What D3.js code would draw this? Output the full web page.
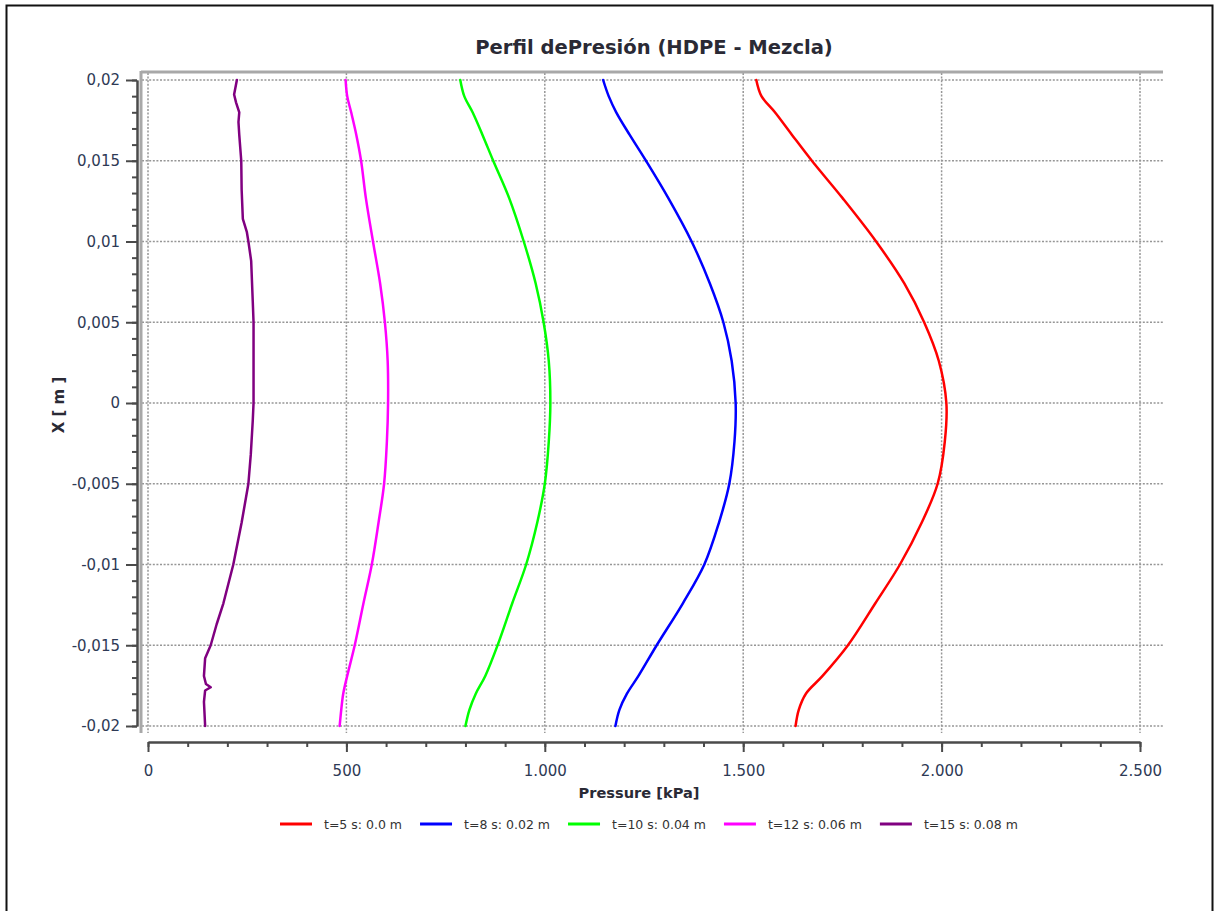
<!DOCTYPE html>
<html><head><meta charset="utf-8">
<script src="https://cdn.jsdelivr.net/npm/d3@7"></script>
<style>body{margin:0;background:#fff}svg{display:block}</style>
</head><body>
<svg id="c" width="1216" height="911"></svg>
<script>
// ---- data ----
const xPos = [0.02, 0.019, 0.018, 0.0166, 0.015, 0.0127, 0.01, 0.0074, 0.005, 0.0026, 0, -0.0024, -0.005, -0.0074, -0.01, -0.0124, -0.015, -0.0169, -0.018, -0.019, -0.02];
const pT5  = [1533, 1546, 1580, 1623, 1673, 1750, 1835, 1906, 1956, 1993, 2012, 2008, 1990, 1950, 1895, 1833, 1764, 1700, 1658, 1640, 1632];
const pT8  = [1147, 1161, 1180, 1214, 1255, 1311, 1370, 1416, 1450, 1471, 1481, 1478, 1465, 1439, 1402, 1348, 1282, 1236, 1207, 1188, 1178];
const pT10 = [787, 797, 818, 843, 870, 910, 947, 977, 997, 1010, 1014, 1010, 1000, 981, 953, 918, 881, 850, 826, 810, 800];
const pT12 = [498, 502, 512, 525, 537, 549, 567, 585, 597, 604, 605, 602, 595, 581, 564, 543, 521, 502, 492, 487, 483];
const xPosT15 = [0.02, 0.0191, 0.0186, 0.018, 0.0174, 0.0166, 0.015, 0.0132, 0.0114, 0.0106, 0.01, 0.0088, 0.0063, 0.005, 0.0021, 0, -0.0011, -0.0032, -0.005, -0.0074, -0.01, -0.0124, -0.0137, -0.015, -0.0158, -0.0169, -0.0174, -0.0176, -0.0178, -0.0185, -0.02];
const pT15 = [224, 217, 222, 230, 228, 230, 235, 236, 239, 249, 253, 260, 264, 266, 266, 266, 264, 259, 253, 236, 215, 190, 173, 158, 144, 141, 146, 158, 144, 141, 144];

const seriesNames = ["t=5 s: 0.0 m", "t=8 s: 0.02 m", "t=10 s: 0.04 m", "t=12 s: 0.06 m", "t=15 s: 0.08 m"];
const seriesColors = ["#ff0000", "#0000ff", "#00ff00", "#ff00ff", "#800080"];
const xTickValues = [0, 500, 1000, 1500, 2000, 2500];
const yTickValues = [-0.02, -0.015, -0.01, -0.005, 0, 0.005, 0.01, 0.015, 0.02];
const titleText = "Perfil dePresión (HDPE - Mezcla)";
const xTitle = "Pressure [kPa]";
const yTitle = "X [ m ]";

const smooth = d3.curveCatmullRom.alpha(0.5);
const series = [
  {name: seriesNames[0], color: seriesColors[0], xs: xPos, ps: pT5, curve: smooth},
  {name: seriesNames[1], color: seriesColors[1], xs: xPos, ps: pT8, curve: smooth},
  {name: seriesNames[2], color: seriesColors[2], xs: xPos, ps: pT10, curve: smooth},
  {name: seriesNames[3], color: seriesColors[3], xs: xPos, ps: pT12, curve: smooth},
  {name: seriesNames[4], color: seriesColors[4], xs: xPosT15, ps: pT15, curve: d3.curveLinear}
];

// ---- layout ----
const svg = d3.select("#c");
const FONT = "'DejaVu Sans', Verdana, sans-serif";
const x = d3.scaleLinear().domain([0, 2500]).range([148, 1140]);
const y = d3.scaleLinear().domain([-0.02, 0.02]).range([726, 80]);
const frameL = 142, frameR = 1163, frameT = 73, frameB = 733;

svg.append("rect").attr("x", 0).attr("y", 0).attr("width", 1216).attr("height", 911).attr("fill", "#fff");
// outer border
svg.append("rect").attr("x", 6.5).attr("y", 5.5).attr("width", 1206).attr("height", 920)
  .attr("fill", "none").attr("stroke", "#111").attr("stroke-width", 2);

// grid
const grid = svg.append("g").attr("stroke", "#969696").attr("stroke-width", 1.5).attr("stroke-dasharray", "2,1.6");
grid.selectAll("line.h").data(yTickValues).join("line").attr("class", "h")
  .attr("x1", frameL).attr("x2", frameR).attr("y1", d => y(d)).attr("y2", d => y(d));
grid.selectAll("line.v").data(xTickValues).join("line").attr("class", "v")
  .attr("y1", frameT).attr("y2", frameB).attr("x1", d => x(d)).attr("x2", d => x(d));

// frame (top and left)
svg.append("line").attr("x1", frameL - 1).attr("x2", frameR).attr("y1", frameT - 1).attr("y2", frameT - 1)
  .attr("stroke", "#a8a8a8").attr("stroke-width", 3);
svg.append("line").attr("x1", frameL - 1).attr("x2", frameL - 1).attr("y1", frameT - 2).attr("y2", frameB)
  .attr("stroke", "#a8a8a8").attr("stroke-width", 3);

// series
const line = (s) => d3.line().x((d, i) => x(s.ps[i])).y((d, i) => y(s.xs[i])).curve(s.curve);
svg.append("g").selectAll("path").data(series).join("path")
  .attr("d", s => line(s)(s.xs))
  .attr("fill", "none").attr("stroke", s => s.color).attr("stroke-width", 2.5)
  .attr("stroke-linejoin", "round").attr("stroke-linecap", "round");

// axes
const loc = d3.formatLocale({decimal: ",", thousands: ".", grouping: [3], currency: ["", ""]});
const fmtX = loc.format(",d");
const fmtY = d => d === 0 ? "0" : String(+d.toFixed(3)).replace(".", ",");
const axisColor = "#4a4a4a", labelColor = "#2e3a55";

const xMinor = d3.range(0, 2501, 100);
const yMinor = d3.range(-20, 21, 1).map(v => v / 1000);

function styleAxis(g) {
  g.select(".domain").attr("stroke", axisColor).attr("stroke-width", 2);
  g.selectAll(".tick line").attr("stroke", axisColor).attr("stroke-width", 2);
  g.selectAll("text").attr("fill", labelColor).attr("font-family", FONT).attr("font-size", 15);
}
const gxm = svg.append("g").attr("transform", "translate(0,742)")
  .call(d3.axisBottom(x).tickValues(xMinor).tickSize(5).tickSizeOuter(0).tickFormat(""));
styleAxis(gxm);
const gx = svg.append("g").attr("transform", "translate(0,742)")
  .call(d3.axisBottom(x).tickValues(xTickValues).tickSize(10).tickSizeOuter(0).tickPadding(13).tickFormat(fmtX));
styleAxis(gx);

const gym = svg.append("g").attr("transform", "translate(137,0)")
  .call(d3.axisLeft(y).tickValues(yMinor).tickSize(5).tickSizeOuter(0).tickFormat(""));
styleAxis(gym);
const gy = svg.append("g").attr("transform", "translate(137,0)")
  .call(d3.axisLeft(y).tickValues(yTickValues).tickSize(11).tickSizeOuter(0).tickPadding(6).tickFormat(fmtY));
styleAxis(gy);

// titles
function fitText(sel, target) {
  const w = sel.node().getComputedTextLength();
  const fs = +sel.attr("font-size");
  sel.attr("font-size", fs * target / w);
}
const t = svg.append("text").attr("x", 654).attr("y", 54).attr("text-anchor", "middle")
  .attr("font-family", FONT).attr("font-weight", "bold").attr("font-size", 18).attr("fill", "#2a2a35").text(titleText);
fitText(t, 358);

const xt = svg.append("text").attr("x", 639).attr("y", 798).attr("text-anchor", "middle")
  .attr("font-family", FONT).attr("font-weight", "bold").attr("font-size", 14).attr("fill", "#2a2a35").text(xTitle);
fitText(xt, 121);

svg.append("text").attr("transform", "translate(64,405) rotate(-90)").attr("text-anchor", "middle")
  .attr("font-family", FONT).attr("font-weight", "bold").attr("font-size", 15).attr("fill", "#2a2a35").text(yTitle);

// legend
const leg = svg.append("g");
let lx = 280;
series.forEach((s) => {
  leg.append("line").attr("x1", lx).attr("x2", lx + 32).attr("y1", 824).attr("y2", 824)
    .attr("stroke", s.color).attr("stroke-width", 3);
  const tx = leg.append("text").attr("x", lx + 44).attr("y", 828.5)
    .attr("font-family", FONT).attr("font-size", 12.5).attr("fill", "#333").text(s.name);
  lx = lx + 44 + tx.node().getComputedTextLength() + 18;
});
</script>
</body></html>
